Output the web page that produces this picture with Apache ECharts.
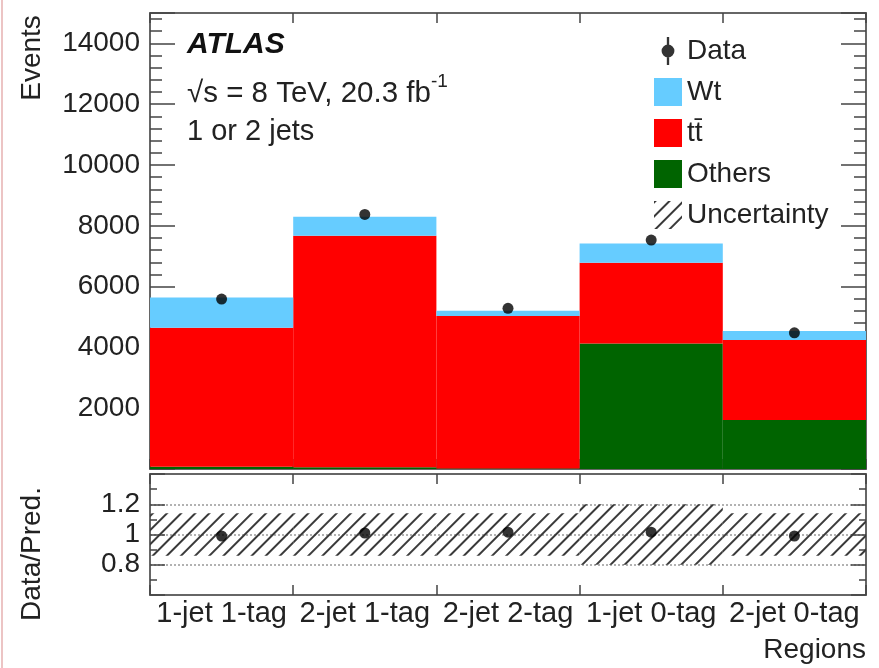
<!DOCTYPE html>
<html><head><meta charset="utf-8">
<script src="https://cdn.jsdelivr.net/npm/echarts@6/dist/echarts.min.js"></script>
<style>html,body{margin:0;padding:0;background:#fff}#c{width:879px;height:668px}</style>
</head><body><div id="c"></div>
<script>
// ---- data ----
const regions = ['1-jet 1-tag', '2-jet 1-tag', '2-jet 2-tag', '1-jet 0-tag', '2-jet 0-tag'];
const others = [70, 60, 15, 4130, 1610];
const ttbar = [4575, 7611, 5015, 2651, 2631];
const wt = [1000, 625, 174, 638, 296];
const dataEvents = [5590, 8375, 5285, 7530, 4480];
const ratio = [0.99, 1.01, 1.015, 1.015, 0.99];
const uncLow = [0.86, 0.86, 0.86, 0.80, 0.86];
const uncHigh = [1.14, 1.14, 1.14, 1.20, 1.14];
const eventTickLabels = [2000, 4000, 6000, 8000, 10000, 12000, 14000];
const ratioTickLabels = [0.8, 1, 1.2];

const FONT = 'Liberation Sans';
const TXT = '#222';
const FRAME = '#666';
const TICK = '#444';

const chart = echarts.init(document.getElementById('c'), null, {renderer: 'canvas'});

function frameAxisX(gridIndex, position, showLabel) {
  return {
    type: 'category', gridIndex, position, data: regions,
    boundaryGap: true,
    axisLine: {show: true, onZero: false, lineStyle: {color: FRAME, width: 2}},
    axisTick: {show: true, inside: true, length: 10, lineStyle: {color: TICK, width: 1.5}},
    axisLabel: showLabel ? {show: true, fontSize: 29, fontFamily: FONT, color: TXT, margin: 4, interval: 0} : {show: false},
    splitLine: {show: false}
  };
}
function eventsAxis(position, showLabel) {
  return {
    type: 'value', gridIndex: 0, position, min: 0, max: 15000, interval: 2000,
    axisLine: {show: true, onZero: false, lineStyle: {color: FRAME, width: 2}},
    axisTick: {show: true, inside: true, length: 25, lineStyle: {color: TICK, width: 1.5}},
    minorTick: {show: true, splitNumber: 5, length: 12, lineStyle: {color: TICK, width: 1.5}},
    axisLabel: showLabel ? {
      show: true, fontSize: 28, fontFamily: FONT, color: TXT, margin: 10,
      formatter: v => eventTickLabels.indexOf(Math.round(v)) >= 0 ? String(Math.round(v)) : ''
    } : {show: false},
    splitLine: {show: false}
  };
}
function ratioAxis(position, showLabel) {
  return {
    type: 'value', gridIndex: 1, position, min: 0.6, max: 1.4, interval: 0.2,
    axisLine: {show: true, onZero: false, lineStyle: {color: FRAME, width: 2}},
    axisTick: {show: true, inside: true, length: 15, lineStyle: {color: TICK, width: 1.5}},
    minorTick: {show: true, splitNumber: 2, length: 7, lineStyle: {color: TICK, width: 1.5}},
    axisLabel: showLabel ? {
      show: true, fontSize: 28, fontFamily: FONT, color: TXT, margin: 10,
      formatter: v => { const r = Math.round(v * 10) / 10; return ratioTickLabels.indexOf(r) >= 0 ? String(r) : ''; }
    } : {show: false},
    splitLine: showLabel ? {show: true, lineStyle: {color: '#999', width: 1.5, type: [2, 2]}} : {show: false}
  };
}

// legend marker: dot with a vertical error bar (bar pieces kept outside the dot)
const dataIcon = 'path://M13,2H15V9H13Z M13,19H15V26H13Z M8.5,14A5.5,5.5,0,1,1,19.5,14A5.5,5.5,0,1,1,8.5,14Z';

const option = {
  animation: false,
  backgroundColor: '#fff',
  textStyle: {fontFamily: FONT},
  grid: [
    {left: 150, right: 13, top: 13, height: 456},
    {left: 150, right: 13, top: 474, height: 121}
  ],
  xAxis: [
    frameAxisX(0, 'bottom', false),
    frameAxisX(0, 'top', false),
    frameAxisX(1, 'bottom', true),
    frameAxisX(1, 'top', false)
  ],
  yAxis: [
    eventsAxis('left', true),
    eventsAxis('right', false),
    ratioAxis('left', true),
    ratioAxis('right', false)
  ],
  legend: {
    orient: 'vertical', left: 654, top: 37, padding: 0,
    itemWidth: 28, itemHeight: 28, itemGap: 13,
    selectedMode: false,
    textStyle: {fontSize: 28, fontFamily: FONT, color: TXT},
    data: [
      {name: 'Data', icon: dataIcon},
      {name: 'Wt', icon: 'rect'},
      {name: 'tt\u0304', icon: 'rect'},
      {name: 'Others', icon: 'rect'},
      {name: 'Uncertainty', icon: 'rect'}
    ]
  },
  series: [
    {name: 'Others', type: 'bar', stack: 'mc', xAxisIndex: 0, yAxisIndex: 0, data: others,
     barCategoryGap: '0%', itemStyle: {color: '#006400'}},
    {name: 'tt\u0304', type: 'bar', stack: 'mc', xAxisIndex: 0, yAxisIndex: 0, data: ttbar,
     barCategoryGap: '0%', itemStyle: {color: '#ff0000'}},
    {name: 'Wt', type: 'bar', stack: 'mc', xAxisIndex: 0, yAxisIndex: 0, data: wt,
     barCategoryGap: '0%', itemStyle: {color: '#66ccff'}},
    {name: 'Data', type: 'scatter', xAxisIndex: 0, yAxisIndex: 0, data: dataEvents,
     symbol: 'circle', symbolSize: 11, itemStyle: {color: '#000'}, z: 5},
    {name: 'uncBase', type: 'bar', stack: 'unc', xAxisIndex: 2, yAxisIndex: 2, data: uncLow,
     barCategoryGap: '0%', itemStyle: {color: 'rgba(0,0,0,0)'}, silent: true},
    {name: 'Uncertainty', type: 'bar', stack: 'unc', xAxisIndex: 2, yAxisIndex: 2,
     data: uncHigh.map((h, i) => h - uncLow[i]),
     barCategoryGap: '0%',
     itemStyle: {color: 'rgba(0,0,0,0)',
       decal: {symbol: 'rect', symbolSize: 1, dashArrayX: [1, 0], dashArrayY: [1.8, 7.2],
               rotation: -Math.PI / 4, color: '#3a3a3a', backgroundColor: 'rgba(0,0,0,0)'}}},
    {name: 'Data ratio', type: 'scatter', xAxisIndex: 2, yAxisIndex: 2, data: ratio,
     symbol: 'circle', symbolSize: 11, itemStyle: {color: '#000'}, z: 5}
  ],
  graphic: [
    {type: 'rect', shape: {x: 1, y: 0, width: 2, height: 668}, style: {fill: '#ecc4c4'}, silent: true},
    {type: 'text', x: 32, y: 58, rotation: Math.PI / 2,
     style: {text: 'Events', fontSize: 28, fontFamily: FONT, fill: TXT, align: 'center', verticalAlign: 'middle'}},
    {type: 'text', x: 32, y: 554, rotation: Math.PI / 2,
     style: {text: 'Data/Pred.', fontSize: 28, fontFamily: FONT, fill: TXT, align: 'center', verticalAlign: 'middle'}},
    {type: 'text', x: 866, y: 650,
     style: {text: 'Regions', fontSize: 28, fontFamily: FONT, fill: TXT, align: 'right', verticalAlign: 'middle'}},
    {type: 'text', x: 187, y: 45,
     style: {text: 'ATLAS', fontSize: 30, fontWeight: 'bold', fontStyle: 'italic', fontFamily: FONT, fill: '#111', align: 'left', verticalAlign: 'middle'}},
    {type: 'text', x: 187, y: 94,
     style: {text: '\u221As = 8 TeV, 20.3 fb', fontSize: 29.5, fontFamily: FONT, fill: TXT, align: 'left', verticalAlign: 'middle'}},
    {type: 'text', x: 431, y: 82,
     style: {text: '-1', fontSize: 19, fontFamily: FONT, fill: TXT, align: 'left', verticalAlign: 'middle'}},
    {type: 'text', x: 187, y: 132,
     style: {text: '1 or 2 jets', fontSize: 29, fontFamily: FONT, fill: TXT, align: 'left', verticalAlign: 'middle'}}
  ]
};
chart.setOption(option);
</script>
</body></html>
